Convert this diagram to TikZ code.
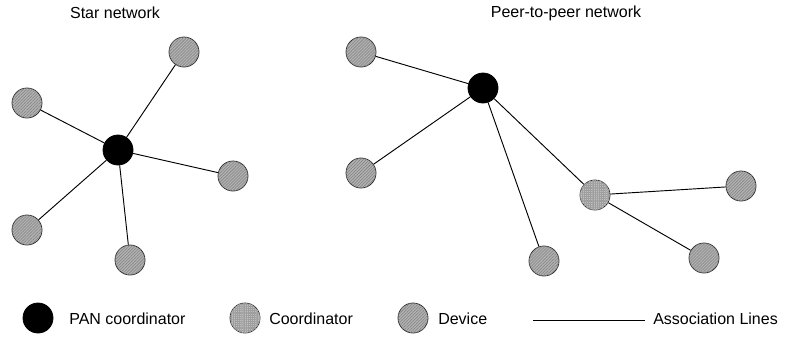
\documentclass[tikz,border=0pt]{standalone}
\usepackage{fontspec}
\setmainfont{Liberation Sans}
\usetikzlibrary{patterns.meta}

\begin{document}
\begin{tikzpicture}[x=0.75pt, y=-0.75pt,
    every node/.style={font=\fontsize{12}{14}\selectfont},
    pannode/.style={circle, draw=black, line width=0.6pt, fill=black, minimum size=22.5pt, inner sep=0pt},
    coordnode/.style={circle, draw=black!80, line width=0.6pt, fill=black!25, minimum size=22.5pt, inner sep=0pt,
      postaction={pattern={Hatch[angle=0, distance=1.4pt, line width=0.25pt]}, pattern color=black!38}},
    devnode/.style={circle, draw=black!80, line width=0.6pt, fill=black!30, minimum size=22.5pt, inner sep=0pt,
      postaction={pattern={Lines[angle=45, distance=1.6pt, line width=0.4pt]}, pattern color=black!50}},
    assoc/.style={draw=black, line width=0.7pt},
    legtext/.style={anchor=west, inner sep=0pt}]
  \useasboundingbox (0,0) rectangle (785,336);

  % titles
  \node (startitle) at (115,13) {Star network};
  \node (peertitle) at (566,13) {Peer-to-peer network};

  % star network
  \node[pannode] (span) at (118,150) {};
  \node[devnode] (sa) at (184,52) {};
  \node[devnode] (sb) at (27,103) {};
  \node[devnode] (sc) at (233,176) {};
  \node[devnode] (sd) at (27,230) {};
  \node[devnode] (se) at (130,260) {};
  \foreach \n in {sa,sb,sc,sd,se}
    \draw[assoc] (span) -- (\n);

  % peer-to-peer network
  \node[pannode] (ppan) at (483,88) {};
  \node[devnode] (pa) at (361,52) {};
  \node[devnode] (pb) at (361,173) {};
  \node[devnode] (pc) at (544,261) {};
  \node[coordnode] (pco) at (595,195) {};
  \node[devnode] (pd) at (741,186) {};
  \node[devnode] (pe) at (704,258) {};
  \foreach \n in {pa,pb,pc,pco}
    \draw[assoc] (ppan) -- (\n);
  \draw[assoc] (pco) -- (pd);
  \draw[assoc] (pco) -- (pe);

  % legend
  \node[pannode] (lgpan) at (38,318) {};
  \node[legtext] (lgpantext) at (69,319) {PAN coordinator};
  \node[coordnode] (lgcoord) at (245,318) {};
  \node[legtext] (lgcoordtext) at (269,319) {Coordinator};
  \node[devnode] (lgdev) at (413,318) {};
  \node[legtext] (lgdevtext) at (438,319) {Device};
  \coordinate (lgla) at (533,320);
  \coordinate (lglb) at (645,320);
  \draw[assoc, line width=0.5pt] (lgla) -- (lglb);
  \node[legtext] (lglinetext) at (653,319) {Association Lines};
\end{tikzpicture}
\end{document}
